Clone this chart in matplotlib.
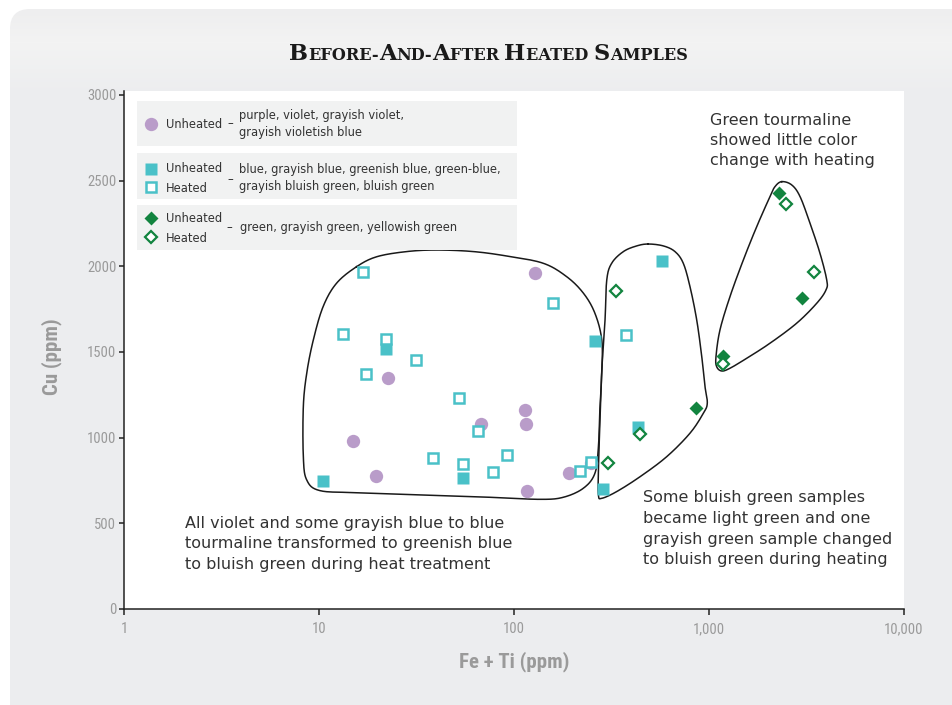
import numpy as np
import matplotlib
matplotlib.use("Agg")
import matplotlib.pyplot as plt
from matplotlib.patches import FancyBboxPatch, Rectangle
from matplotlib.offsetbox import TextArea, HPacker, AnchoredOffsetbox
from matplotlib.ticker import NullLocator
from matplotlib.colors import to_rgb

# Fe + Ti (ppm) and Cu (ppm) for each group of samples
violet_unheated_feti = [128, 22.6, 14.9, 19.6, 67.7, 114, 115, 191, 248, 117]
violet_unheated_cu = [1961, 1348, 981, 776, 1080, 1161, 1080, 794, 852, 689]

blue_unheated_feti = [10.5, 22.1, 54.7, 260, 286, 574, 432]
blue_unheated_cu = [747, 1518, 765, 1564, 700, 2031, 1062]

blue_heated_feti = [16.8, 13.3, 22.1, 31.4, 17.4, 52.2, 65.4, 38.4, 54.7, 92, 78, 218, 158, 375, 248]
blue_heated_cu = [1967, 1605, 1576, 1453, 1372, 1231, 1039, 881, 846, 899, 800, 805, 1786, 1599, 857]

green_unheated_feti = [2286, 3000, 858, 1180]
green_unheated_cu = [2428, 1815, 1173, 1477]

green_heated_feti = [333, 443, 303, 2483, 3453, 1180]
green_heated_cu = [1856, 1021, 852, 2364, 1967, 1430]

# outlines drawn around the sample groups (Fe + Ti, Cu)
group1_feti = [15.6, 19.8, 28.2, 40.2, 61.8, 91.8, 141, 186, 227, 260, 282, 282, 276, 271, 260,
               227, 179, 136, 75.3, 34.3, 15.6, 10.1, 8.65, 8.31, 8.31, 8.65, 9.35, 10.5, 12.3]
group1_cu = [1998, 2056, 2086, 2095, 2086, 2060, 2018, 1940, 1843, 1726, 1570, 1376, 1181, 947, 792,
             705, 652, 640, 652, 665, 679, 691, 753, 889, 1181, 1376, 1570, 1765, 1901]

group2_feti = [488, 583, 669, 738, 799, 865, 918, 954, 980, 935, 799, 607, 443, 336, 282, 271,
               271, 276, 282, 293, 299, 317, 364, 426]
group2_cu = [2130, 2119, 2086, 2018, 1881, 1687, 1473, 1298, 1201, 1142, 1026, 889, 772, 685, 646, 665,
             811, 1103, 1395, 1687, 1920, 2018, 2086, 2119]

group3_feti = [2360, 2655, 2930, 3297, 3708, 4016, 3981, 3567, 2817, 2055, 1560, 1281, 1162, 1095,
               1086, 1138, 1281, 1500, 1756, 2055, 2180]
group3_cu = [2494, 2475, 2407, 2251, 2076, 1920, 1862, 1784, 1668, 1551, 1463, 1405, 1389, 1414,
             1473, 1628, 1823, 2037, 2231, 2407, 2465]

x_ticks = [1, 10, 100, 1000, 10000]
x_tick_labels = ["1", "10", "100", "1,000", "10,000"]
y_ticks = [0, 500, 1000, 1500, 2000, 2500, 3000]

PURPLE = "#b99cc9"
TEAL = "#4ac1c8"
GREEN = "#12843f"
TEXT = "#333333"
AXIS_GRAY = "#9a9a9a"
NARROW = ["Roboto Condensed", "Open Sans Condensed", "Liberation Sans Narrow",
          "DejaVu Sans Condensed", "DejaVu Sans"]


def closed_spline(xs, ys, n=16):
    """Closed Catmull-Rom curve through the points, in log-x space."""
    pts = np.column_stack([np.log10(xs), np.asarray(ys, float)])
    N = len(pts)
    t = np.linspace(0, 1, n, endpoint=False)[:, None]
    segs = []
    for i in range(N):
        p0, p1, p2, p3 = pts[i - 1], pts[i], pts[(i + 1) % N], pts[(i + 2) % N]
        segs.append(0.5 * (2 * p1 + (-p0 + p2) * t + (2 * p0 - 5 * p1 + 4 * p2 - p3) * t ** 2
                           + (-p0 + 3 * p1 - 3 * p2 + p3) * t ** 3))
    segs.append(pts[:1])
    out = np.vstack(segs)
    return 10 ** out[:, 0], out[:, 1]


W, H = 953, 705
fig = plt.figure(figsize=(W / 100, H / 100), dpi=100)
fig.patch.set_facecolor("white")

# background panel with a soft gradient near the top
bg = fig.add_axes([0, 0, 1, 1], zorder=0)
bg.set_xlim(0, W)
bg.set_ylim(H, 0)
bg.axis("off")
panel = FancyBboxPatch((10, 9), W + 30, H + 40, boxstyle="round,pad=0,rounding_size=20",
                       fc="none", ec="none")
bg.add_patch(panel)
rows = np.arange(H)
c_top, c_mid, c_low = to_rgb("#eeeeef"), to_rgb("#f3f3f3"), to_rgb("#ecedef")
grad = np.stack([np.interp(rows, [9, 42, 95, 130], [a, b, c, c])
                 for a, b, c in zip(c_top, c_mid, c_low)], axis=-1)
grad = np.repeat(grad[:, None, :], 4, axis=1)
img = bg.imshow(grad, extent=(0, W, H, 0), aspect="auto", interpolation="nearest")
img.set_clip_path(panel)
bg.set_xlim(0, W)
bg.set_ylim(H, 0)

# main scatter axes
ax = fig.add_axes([124 / W, 1 - 609 / H, 780 / W, 518 / H], zorder=1)
ax.set_facecolor("white")
ax.set_xscale("log")
ax.set_xlim(1, 10000)
ax.set_ylim(0, 3023)
for side in ("top", "right"):
    ax.spines[side].set_visible(False)
for side in ("left", "bottom"):
    ax.spines[side].set_linewidth(1.1)
    ax.spines[side].set_color("#222222")
ax.set_xticks(x_ticks)
ax.set_xticklabels(x_tick_labels)
ax.xaxis.set_minor_locator(NullLocator())
ax.set_yticks(y_ticks)
ax.set_yticklabels([str(v) for v in y_ticks])
ax.tick_params(axis="x", direction="out", length=4.5, width=1.1, color="#222222", pad=5,
               labelsize=10.5, labelcolor=AXIS_GRAY)
ax.tick_params(axis="y", direction="out", length=3.5, width=1.1, color="#222222", pad=2,
               labelsize=10.5, labelcolor=AXIS_GRAY)
for lab in ax.get_xticklabels() + ax.get_yticklabels():
    lab.set_fontfamily(NARROW)
    lab.set_fontstretch("condensed")

for gx, gy in ((group1_feti, group1_cu), (group2_feti, group2_cu), (group3_feti, group3_cu)):
    sx, sy = closed_spline(gx, gy)
    ax.plot(sx, sy, color="#1a1a1a", lw=1.1, zorder=2, clip_on=False)

ax.plot(violet_unheated_feti, violet_unheated_cu, ls="none", marker="o", ms=9.6,
        mfc=PURPLE, mec="none", zorder=3)
ax.plot(blue_unheated_feti, blue_unheated_cu, ls="none", marker="s", ms=9.2,
        mfc=TEAL, mec="none", zorder=4)
ax.plot(blue_heated_feti, blue_heated_cu, ls="none", marker="s", ms=7, mfc="white",
        mec=TEAL, mew=1.8, zorder=4)
ax.plot(green_unheated_feti, green_unheated_cu, ls="none", marker="D", ms=7.5,
        mfc=GREEN, mec="none", zorder=4)
ax.plot(green_heated_feti, green_heated_cu, ls="none", marker="D", ms=5.8, mfc="white",
        mec=GREEN, mew=1.6, zorder=4)

fig.text(514 / W, 1 - 662 / H, "Fe + Ti (ppm)", ha="center", va="center", fontsize=15,
         fontweight="bold", color=AXIS_GRAY, family=NARROW, fontstretch="condensed")
fig.text(52 / W, 1 - 357 / H, "Cu (ppm)", ha="center", va="center", rotation=90, fontsize=15,
         fontweight="bold", color=AXIS_GRAY, family=NARROW, fontstretch="condensed")

# overlay in pixel units for legend, notes and title
ov = fig.add_axes([0, 0, 1, 1], zorder=3)
ov.set_xlim(0, W)
ov.set_ylim(H, 0)
ov.axis("off")
ov.patch.set_alpha(0)

for y0, h in ((101, 45), (153, 46), (205, 45)):
    ov.add_patch(Rectangle((137, y0), 380, h, fc="#f1f2f2", ec="none"))

lfs = 8.3
ov.plot(151, 124, marker="o", ms=9.6, mfc=PURPLE, mec="none")
ov.text(166, 124, "Unheated", fontsize=lfs, color=TEXT, va="center")
ov.text(227, 124, "–", fontsize=lfs, color=TEXT, va="center")
ov.text(239, 124, "purple, violet, grayish violet,\ngrayish violetish blue", fontsize=lfs,
        color=TEXT, va="center", linespacing=1.35)

ov.plot(151, 169, marker="s", ms=9.2, mfc=TEAL, mec="none")
ov.plot(151, 187, marker="s", ms=7, mfc="white", mec=TEAL, mew=1.8)
ov.text(166, 169, "Unheated", fontsize=lfs, color=TEXT, va="center")
ov.text(166, 188, "Heated", fontsize=lfs, color=TEXT, va="center")
ov.text(227, 180, "–", fontsize=lfs, color=TEXT, va="center")
ov.text(239, 178, "blue, grayish blue, greenish blue, green-blue,\ngrayish bluish green, bluish green",
        fontsize=lfs, color=TEXT, va="center", linespacing=1.35)

ov.plot(151, 218, marker="D", ms=7.5, mfc=GREEN, mec="none")
ov.plot(151, 237, marker="D", ms=5.8, mfc="white", mec=GREEN, mew=1.6)
ov.text(166, 219, "Unheated", fontsize=lfs, color=TEXT, va="center")
ov.text(166, 238, "Heated", fontsize=lfs, color=TEXT, va="center")
ov.text(227, 227, "–  green, grayish green, yellowish green", fontsize=lfs, color=TEXT,
        va="center")

nfs = 11.5
ov.text(710, 113, "Green tourmaline\nshowed little color\nchange with heating", fontsize=nfs,
        color=TEXT, va="top", linespacing=1.41)
ov.text(185, 516, "All violet and some grayish blue to blue\ntourmaline transformed to greenish blue\n"
        "to bluish green during heat treatment", fontsize=nfs, color=TEXT, va="top",
        linespacing=1.45)
ov.text(643, 490, "Some bluish green samples\nbecame light green and one\n"
        "grayish green sample changed\nto bluish green during heating", fontsize=nfs,
        color=TEXT, va="top", linespacing=1.48)

# small-caps title
big = dict(fontsize=16.2, fontweight="bold", color="#1a1a1a", family="DejaVu Serif")
small = dict(fontsize=11.6, fontweight="bold", color="#1a1a1a", family="DejaVu Serif")
pieces = [("B", big), ("EFORE-", small), ("A", big), ("ND-", small), ("A", big),
          ("FTER ", small), ("H", big), ("EATED ", small), ("S", big), ("AMPLES", small)]
packer = HPacker(children=[TextArea(s, textprops=p) for s, p in pieces], align="baseline",
                 pad=0, sep=0)
title = AnchoredOffsetbox(loc="center", child=packer, pad=0, borderpad=0, frameon=False,
                          bbox_to_anchor=(488.5 / W, 1 - 54 / H), bbox_transform=fig.transFigure)
ov.add_artist(title)

fig.savefig("out.png", dpi=100)
